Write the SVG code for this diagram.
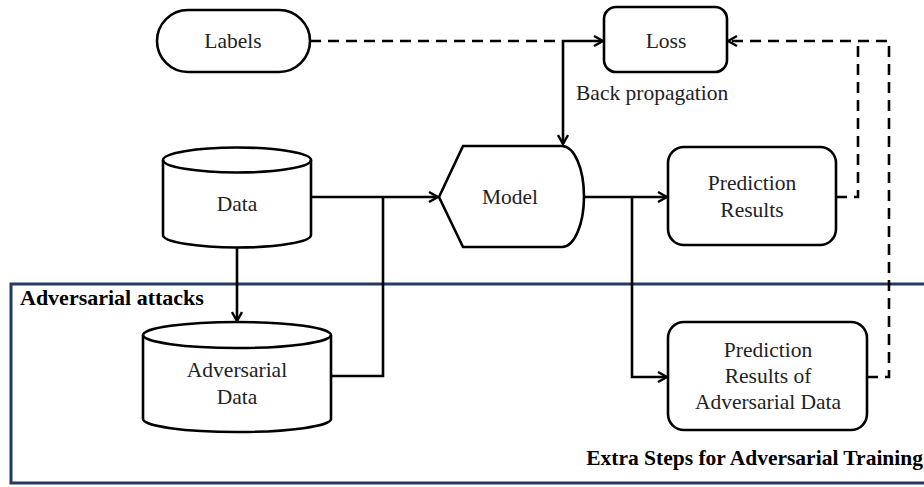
<svg xmlns="http://www.w3.org/2000/svg" width="924" height="487" viewBox="0 0 924 487">
<style>
.shape{fill:#fff;stroke:#000;stroke-width:2.6}
text{font-family:'Liberation Serif',serif;font-size:21.5px}
.t{fill:#222;text-anchor:middle}
.s{fill:#222;text-anchor:start}
.b{font-weight:bold;fill:#000;font-size:22px}
.e{font-weight:bold;fill:#000;text-anchor:end;font-size:21.5px}
.c{fill:none;stroke:#000;stroke-width:2.6}
.d{stroke-dasharray:11,7}
</style>
<defs>
<marker id="arr" viewBox="0 0 12 12" refX="11" refY="6" markerWidth="12" markerHeight="12" markerUnits="userSpaceOnUse" orient="auto-start-reverse">
<path d="M2,1 L11,6 L2,11" fill="none" stroke="#000" stroke-width="2.4"/>
</marker>
</defs>
<rect x="0" y="0" width="924" height="487" fill="#fff"/>
<g id="adv-region">
<rect x="11" y="284" width="925" height="199" fill="none" stroke="#243a5e" stroke-width="3"/>
<text class="b" x="20" y="305">Adversarial attacks</text>
<text class="e" x="923" y="465">Extra Steps for Adversarial Training</text>
</g>
<g id="connectors">
<path class="c d" d="M310,41 L562,41"/>
<path class="c" d="M603,41 L563,41 L563,144" marker-start="url(#arr)" marker-end="url(#arr)"/>
<path class="c" d="M311,197 L438,197" marker-end="url(#arr)"/>
<path class="c" d="M331,376 L383,376 L383,197"/>
<path class="c" d="M237,247 L237,321" marker-end="url(#arr)"/>
<path class="c" d="M568,197 L667,197" marker-end="url(#arr)"/>
<path class="c" d="M632,197 L632,377 L667,377" marker-end="url(#arr)"/>
<path class="c d" d="M836,197 L858,197 L858,41"/>
<path class="c d" d="M867,377 L889,377 L889,41 L728,41" marker-end="url(#arr)"/>
</g>
<g id="labels">
<rect class="shape" x="157" y="10" width="153" height="62" rx="31"/>
<text class="t" x="233" y="48">Labels</text>
</g>
<g id="loss">
<rect class="shape" x="604" y="7" width="123" height="65" rx="12"/>
<text class="t" x="666" y="48">Loss</text>
</g>
<g id="backprop-label">
<text class="s" x="576" y="100">Back propagation</text>
</g>
<g id="data">
<path class="shape" d="M163,160 A74,12.5 0 0,1 311,160 L311,235 A74,12.5 0 0,1 163,235 Z"/>
<path class="c" d="M163,160 A74,12.5 0 0,0 311,160"/>
<text class="t" x="237" y="211">Data</text>
</g>
<g id="model">
<path class="shape" d="M439,197 L463,146 L562,146 A22,50.5 0 0,1 562,247 L463,247 Z"/>
<text class="t" x="510" y="204">Model</text>
</g>
<g id="prediction-results">
<rect class="shape" x="668" y="147" width="168" height="98" rx="16"/>
<text class="t" x="752" y="190">Prediction</text>
<text class="t" x="752" y="217">Results</text>
</g>
<g id="adversarial-data">
<path class="shape" d="M143,335 A94,13 0 0,1 331,335 L331,419 A94,13 0 0,1 143,419 Z"/>
<path class="c" d="M143,335 A94,13 0 0,0 331,335"/>
<text class="t" x="237" y="377">Adversarial</text>
<text class="t" x="237" y="404">Data</text>
</g>
<g id="prediction-adv">
<rect class="shape" x="668" y="322" width="199" height="108" rx="16"/>
<text class="t" x="768" y="357">Prediction</text>
<text class="t" x="768" y="383">Results of</text>
<text class="t" x="768" y="409">Adversarial Data</text>
</g>
</svg>
